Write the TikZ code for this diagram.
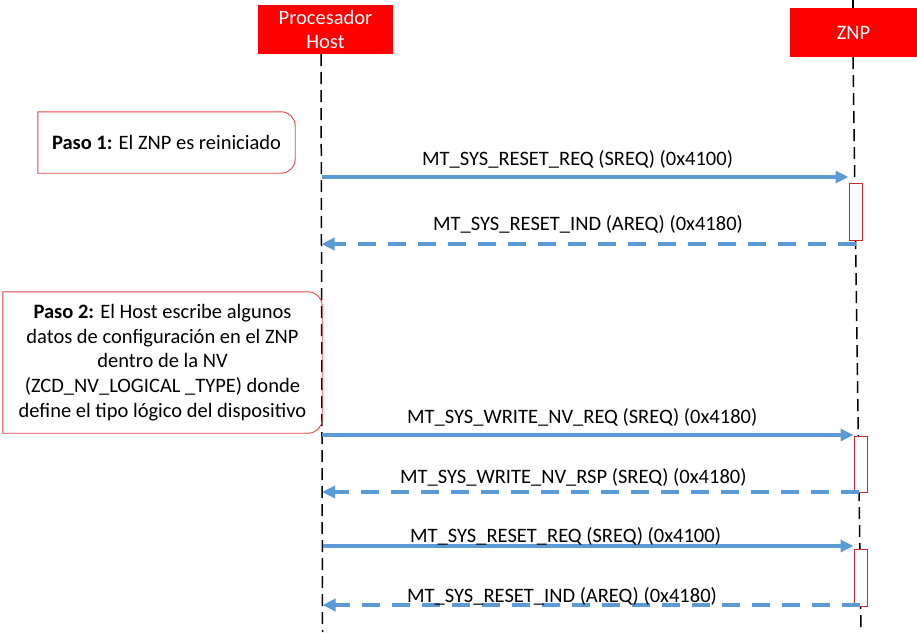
\documentclass[tikz,border=0pt]{standalone}
\usepackage{fontspec}
\setmainfont{Carlito}
\usetikzlibrary{arrows.meta}
\definecolor{head}{HTML}{FF0000}
\definecolor{msg}{HTML}{5B9BD5}
\definecolor{note}{HTML}{E8424A}
\definecolor{bar}{HTML}{C8282E}

\begin{document}
\begin{tikzpicture}[x=1pt,y=-1pt,
  lane/.style={fill=head,text=white,inner sep=0pt,align=center,font=\fontsize{20.5}{24.5}\selectfont},
  life/.style={line width=1.5pt,dash pattern=on 12pt off 6pt},
  notebox/.style={inner sep=0pt,align=center,font=\fontsize{20.5}{24.75}\selectfont},
  noteline/.style={draw=note,line width=0.9pt},
  actbox/.style={draw=bar,fill=white,line width=1pt,minimum width=13pt,inner sep=0pt},
  call/.style={msg,line width=3.3pt,-{Triangle[length=13pt,width=12pt]}},
  reply/.style={call,dash pattern=on 18pt off 12pt},
  msglbl/.style={anchor=base west,inner sep=0pt,font=\fontsize{20.5}{24}\selectfont}]

\useasboundingbox (0,0) rectangle (917,632);

% participants
\node[lane,minimum width=135pt,minimum height=49pt] (host) at (325.5,29.5) {Procesador\\Host};
\node[lane,minimum width=127pt,minimum height=49pt] (znp) at (853.5,32.5) {ZNP};

\coordinate (hosttop) at (321,54);
\coordinate (hostend) at (322.5,632);
\coordinate (znptop) at (853,0);
\coordinate (znpend) at (861,632);
\draw[life] (hosttop) -- (hostend);
\draw[life] (znptop) -- (znp.north -| znptop);
\draw[life] (znp.south -| znptop) -- (znpend);

% notes
\node[notebox,minimum width=257pt,minimum height=61pt] (paso1) at (166.5,142.5) {\textbf{Paso 1:} El ZNP es reiniciado};
\node[notebox,minimum width=319pt,minimum height=141pt] (paso2) at (162.5,362.5) {\textbf{Paso 2:} El Host escribe algunos\\datos de configuración en el ZNP\\dentro de la NV\\(ZCD\_NV\_LOGICAL \_TYPE) donde\\define el tipo lógico del dispositivo};
\draw[noteline] (paso1.south west) -- (paso1.north west) [rounded corners=14pt] -- (paso1.north east) -- (paso1.south east) [sharp corners] -- cycle;
\draw[noteline] (paso2.south west) -- (paso2.north west) [rounded corners=14pt] -- (paso2.north east) -- (paso2.south east) [sharp corners] -- cycle;

% activations
\node[actbox,minimum height=57pt] (act1) at (855.5,211.5) {};
\node[actbox,minimum height=56pt] (act2) at (860.5,464) {};
\node[actbox,minimum height=57pt] (act3) at (860.5,577.5) {};

% messages
\coordinate (h1) at (321.5,177);
\coordinate (h2) at (321.5,244);
\coordinate (h3) at (322,435);
\coordinate (h4) at (322,492);
\coordinate (h5) at (322.5,546);
\coordinate (h6) at (322.5,605);
\coordinate (z2) at (856,244);
\coordinate (z4) at (859,492);
\coordinate (z6) at (860,605);

\draw[call] (h1) -- (h1 -| act1.west);
\draw[reply] (z2) -- (h2);
\draw[call] (h3) -- (h3 -| act2.west);
\draw[reply] (z4) -- (h4);
\draw[call] (h5) -- (h5 -| act3.west);
\draw[reply] (z6) -- (h6);

\node[msglbl] (m1) at (422,165) {MT\_SYS\_RESET\_REQ (SREQ) (0x4100)};
\node[msglbl] (m2) at (433,230) {MT\_SYS\_RESET\_IND (AREQ) (0x4180)};
\node[msglbl] (m3) at (407,423) {MT\_SYS\_WRITE\_NV\_REQ (SREQ) (0x4180)};
\node[msglbl] (m4) at (400,483) {MT\_SYS\_WRITE\_NV\_RSP (SREQ) (0x4180)};
\node[msglbl] (m5) at (410,542) {MT\_SYS\_RESET\_REQ (SREQ) (0x4100)};
\node[msglbl] (m6) at (407,602) {MT\_SYS\_RESET\_IND (AREQ) (0x4180)};
\end{tikzpicture}
\end{document}
